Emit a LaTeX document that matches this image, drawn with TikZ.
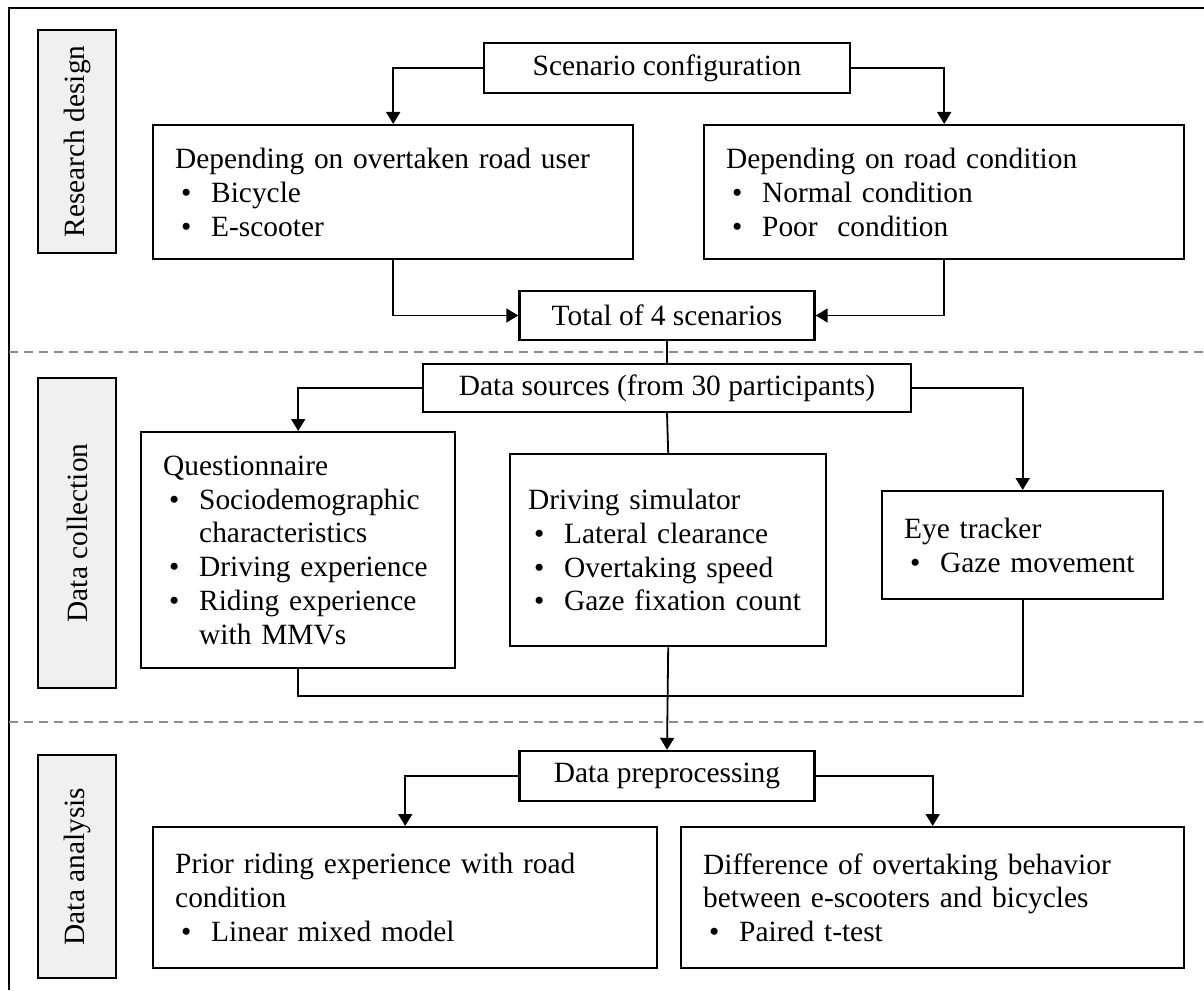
\documentclass[tikz,border=0pt]{standalone}
\usepackage{fontspec}
\setmainfont{Liberation Serif}
\usetikzlibrary{arrows.meta,positioning}

% bullet item with hanging indent
\newcommand{\itm}[1]{\par\hangindent=18pt\hangafter=1\noindent\makebox[18pt][l]{\hspace{3pt}\textbullet}#1\par}

\begin{document}
\begin{tikzpicture}[x=0.5pt,y=-0.5pt,
    font=\fontsize{14.7}{16.9}\selectfont,
    infobox/.style={draw,line width=1.2pt,anchor=north west,align=left,inner xsep=11pt,inner ysep=4pt},
    titlebox/.style={draw,line width=1.2pt,inner sep=2pt},
    sidebox/.style={draw,line width=1.1pt,fill=black!6,rotate=90,minimum height=39pt,inner sep=0pt},
    link/.style={line width=0.9pt},
    arr/.style={link,-{Triangle[width=7pt,length=6pt]}},
    sep/.style={black!45,line width=1pt,dash pattern=on 4.5pt off 3pt}]
  \useasboundingbox (0,0) rectangle (1204,990);
  \draw[line width=1.4pt] (9,990) -- (9,8) -- (1204,8);
  \draw[sep] (9,352) -- (1204,352);
  \draw[sep] (9,722) -- (1204,722);

  % stage labels
  \node[sidebox,minimum width=111.5pt] (design) at (77,141.5) {Research design};
  \node[sidebox,minimum width=155pt] (collect) at (77,533) {Data collection};
  \node[sidebox,minimum width=111.5pt] (analysis) at (77,866.5) {Data analysis};

  % research design
  \node[titlebox,minimum width=183pt,minimum height=25pt] (scen) at (667,68) {Scenario configuration};
  \node[infobox,text width=218pt,minimum height=67pt] (user) at (152,124)
    {Depending on overtaken road user\itm{Bicycle}\itm{E-scooter}};
  \node[infobox,text width=218pt,minimum height=67pt] (road) at (703,124)
    {Depending on road condition\itm{Normal condition}\itm{Poor\ \ condition}};
  \node[titlebox,minimum width=147.5pt,minimum height=24.5pt] (total) at (667,315.5) {Total of 4 scenarios};

  % data collection
  \node[titlebox,minimum width=244pt,minimum height=24pt] (src) at (667,388) {Data sources (from 30 participants)};
  \node[infobox,text width=135pt,minimum height=118pt] (quest) at (140,431)
    {Questionnaire\itm{Sociodemographic characteristics}\itm{Driving experience}\itm{Riding experience with MMVs}};
  \node[infobox,text width=140pt,inner xsep=9pt,minimum height=96pt] (sim) at (509,453)
    {Driving simulator\itm{Lateral clearance}\itm{Overtaking speed}\itm{Gaze fixation count}};
  \node[infobox,text width=118.5pt,minimum height=54pt] (eye) at (881,490)
    {Eye tracker\itm{Gaze movement}};
  \coordinate (merge) at (667,696);

  % data analysis
  \node[titlebox,minimum width=147.5pt,minimum height=25pt] (prep) at (667,776) {Data preprocessing};
  \node[infobox,text width=230pt,minimum height=70.5pt] (prior) at (152,826)
    {Prior riding experience with road condition\itm{Linear mixed model}};
  \node[infobox,text width=229.5pt,minimum height=70.5pt] (diff) at (680,826)
    {Difference of overtaking behavior between e-scooters and bicycles\itm{Paired t-test}};

  \draw[arr] (scen.west) -| (user.north);
  \draw[arr] (scen.east) -| (road.north);
  \draw[arr] (user.south) |- (total.west);
  \draw[arr] (road.south) |- (total.east);
  \draw[link] (total.south) -- (src.north);
  \draw[arr] (src.west) -| (quest.north);
  \draw[link] (src.south) -- (sim.north);
  \draw[arr] (src.east) -| (eye.north);
  \draw[link] (quest.south) |- (merge) -| (eye.south);
  \draw[arr] (sim.south) -- (prep.north);
  \draw[arr] (prep.west) -| (prior.north);
  \draw[arr] (prep.east) -| (diff.north);
\end{tikzpicture}
\end{document}
